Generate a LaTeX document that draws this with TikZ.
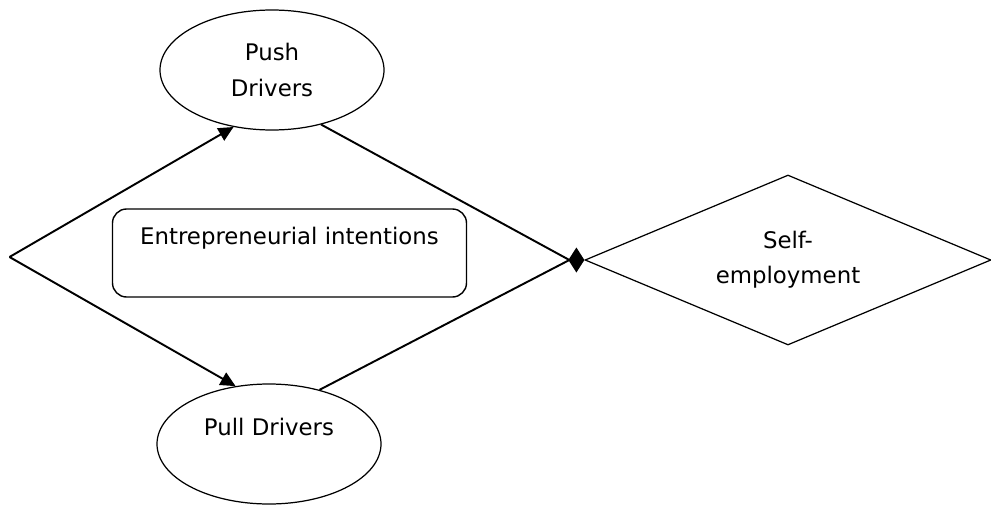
\documentclass[tikz,border=0pt]{standalone}
\usepackage{fontspec}
\setmainfont{DejaVu Sans}
\usetikzlibrary{shapes.geometric,arrows.meta}

\begin{document}
\begin{tikzpicture}[
  % 设置各种节点的style
  % driver是两个椭圆, intentbox是圆角长方形, result是右边的菱形
  driver/.style={draw, ellipse, line width=0.7pt, minimum width=4.48cm,
    minimum height=2.4cm, align=center, inner sep=0pt},
  intentbox/.style={draw, rounded corners=8pt, line width=0.8pt,
    minimum width=7.08cm, minimum height=1.76cm, align=center},
  result/.style={draw, diamond, aspect=2.39, line width=0.7pt,
    minimum width=8.12cm, minimum height=3.4cm, align=center, inner sep=0pt},
  % 连线的style
  link/.style={line width=1.1pt},
  font=\fontsize{13}{20}\selectfont
]

  % 固定画布的大小
  \useasboundingbox (0,0) rectangle (19.82,-10.1);

  % 画节点
  \coordinate (start) at (0.19,-5.14);
  \node[driver] (push) at (5.44,-1.40) {Push\\Drivers};
  \node[driver] (pull) at (5.38,-8.88) {Pull Drivers\\ \mbox{}};
  \node[intentbox] (intent) at (5.79,-5.06) {Entrepreneurial intentions\\ \mbox{}};
  \node[result] (self) at (15.76,-5.2) {Self-\\employment};
  \coordinate (join) at (self.west);

  % 画连线
  % 菱形箭头要竖着放, 所以最后一小段是水平的
  \draw[link, -{Triangle[length=0.3cm,width=0.28cm]}] (start) -- (push.236);
  \draw[link, -{Triangle[length=0.3cm,width=0.28cm]}] (start) -- (pull.120);
  \draw[link, -{Diamond[length=0.32cm,width=0.5cm]}] (push.312)
    -- ([xshift=-0.3cm]join) -- (join);
  \draw[link] (pull.47) -- ([xshift=-0.3cm]join);

\end{tikzpicture}
\end{document}
